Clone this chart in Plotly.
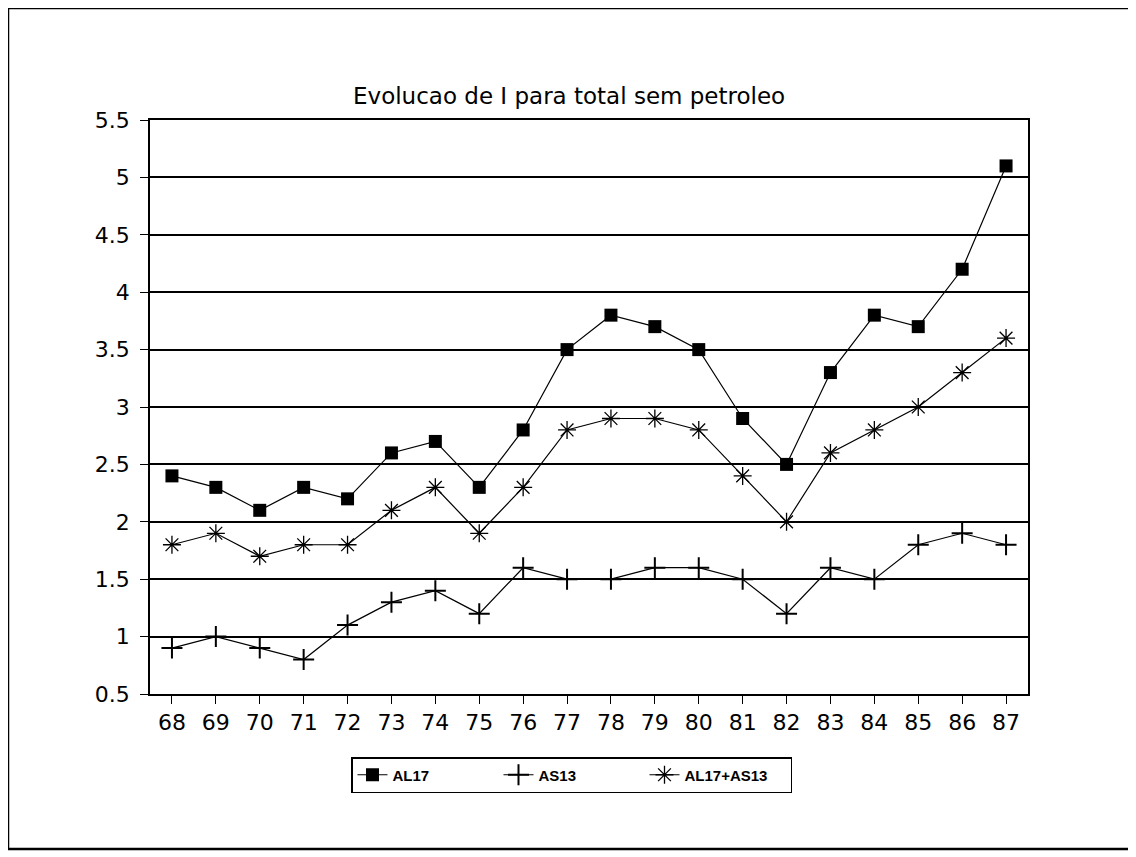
import plotly.graph_objects as go

years = ["68", "69", "70", "71", "72", "73", "74", "75", "76", "77",
         "78", "79", "80", "81", "82", "83", "84", "85", "86", "87"]
al17 = [2.4, 2.3, 2.1, 2.3, 2.2, 2.6, 2.7, 2.3, 2.8, 3.5,
        3.8, 3.7, 3.5, 2.9, 2.5, 3.3, 3.8, 3.7, 4.2, 5.1]
as13 = [0.9, 1.0, 0.9, 0.8, 1.1, 1.3, 1.4, 1.2, 1.6, 1.5,
        1.5, 1.6, 1.6, 1.5, 1.2, 1.6, 1.5, 1.8, 1.9, 1.8]
al17_as13 = [1.8, 1.9, 1.7, 1.8, 1.8, 2.1, 2.3, 1.9, 2.3, 2.8,
             2.9, 2.9, 2.8, 2.4, 2.0, 2.6, 2.8, 3.0, 3.3, 3.6]
y_ticks = [0.5, 1, 1.5, 2, 2.5, 3, 3.5, 4, 4.5, 5, 5.5]
y_labels = ["0.5", "1", "1.5", "2", "2.5", "3", "3.5", "4", "4.5", "5", "5.5"]
title = "Evolucao de I para total sem petroleo"

W, H = 1136, 857
OFF = 8  # page body margin offset
L, R, T, B = 150 - OFF, 1028 - OFF, 120 - OFF, 694 - OFF  # plot area px


def px_x(p):
    return (p - OFF - L) / (R - L)


def px_y(p):
    return (B - (p - OFF)) / (B - T)


fig = go.Figure()
fig.add_trace(go.Scatter(
    x=years, y=al17, name="AL17", mode="lines+markers",
    line=dict(color="black", width=1.2),
    marker=dict(symbol="square", size=13, color="black"),
))
fig.add_trace(go.Scatter(
    x=years, y=as13, name="AS13", mode="lines+markers",
    line=dict(color="black", width=1.2),
    marker=dict(symbol="cross-thin", size=15, color="black",
                line=dict(color="black", width=2)),
))
fig.add_trace(go.Scatter(
    x=years, y=al17_as13, name="AL17+AS13", mode="lines+markers",
    line=dict(color="black", width=1.2),
    marker=dict(symbol="asterisk", size=15, color="black",
                line=dict(color="black", width=1.3)),
))

fig.update_layout(
    width=W, height=H,
    margin=dict(l=L, r=W - R, t=T, b=H - B, pad=0),
    paper_bgcolor="white", plot_bgcolor="white",
    font=dict(family="DejaVu Sans", color="black", size=20),
    showlegend=True,
    legend=dict(
        orientation="h", x=px_x(351), y=px_y(757),
        xanchor="left", yanchor="top",
        bordercolor="black", borderwidth=1.5,
        font=dict(family="Liberation Sans", size=15, color="black", weight="bold"),
        entrywidth=101, entrywidthmode="pixels",
        itemwidth=30,
    ),
    xaxis=dict(
        type="category", range=[-0.5, len(years) - 0.5],
        showline=True, linecolor="black", linewidth=1.5, mirror=True,
        ticks="outside", ticklen=8, tickwidth=1.2, tickcolor="black",
        showgrid=False, zeroline=False,
        tickfont=dict(family="DejaVu Sans", size=22),
        ticklabelstandoff=0,
    ),
    yaxis=dict(
        range=[0.5, 5.5], tickvals=y_ticks, ticktext=y_labels,
        showline=True, linecolor="black", linewidth=1.5, mirror=True,
        ticks="outside", ticklen=8, tickwidth=1.2, tickcolor="black",
        showgrid=True, gridcolor="black", gridwidth=1.8,
        zeroline=False,
        tickfont=dict(family="DejaVu Sans", size=22),
        ticklabelstandoff=6,
    ),
    annotations=[dict(
        text=title, xref="paper", yref="paper",
        x=px_x(569), y=px_y(96), xanchor="center", yanchor="middle",
        showarrow=False, font=dict(family="DejaVu Sans", size=23, color="black"),
    )],
    shapes=[dict(
        type="rect", xref="paper", yref="paper",
        x0=px_x(8), x1=px_x(1134), y0=px_y(849), y1=px_y(8),
        line=dict(color="black", width=2.5), layer="below",
    )],
)

fig.write_html("out.html")
